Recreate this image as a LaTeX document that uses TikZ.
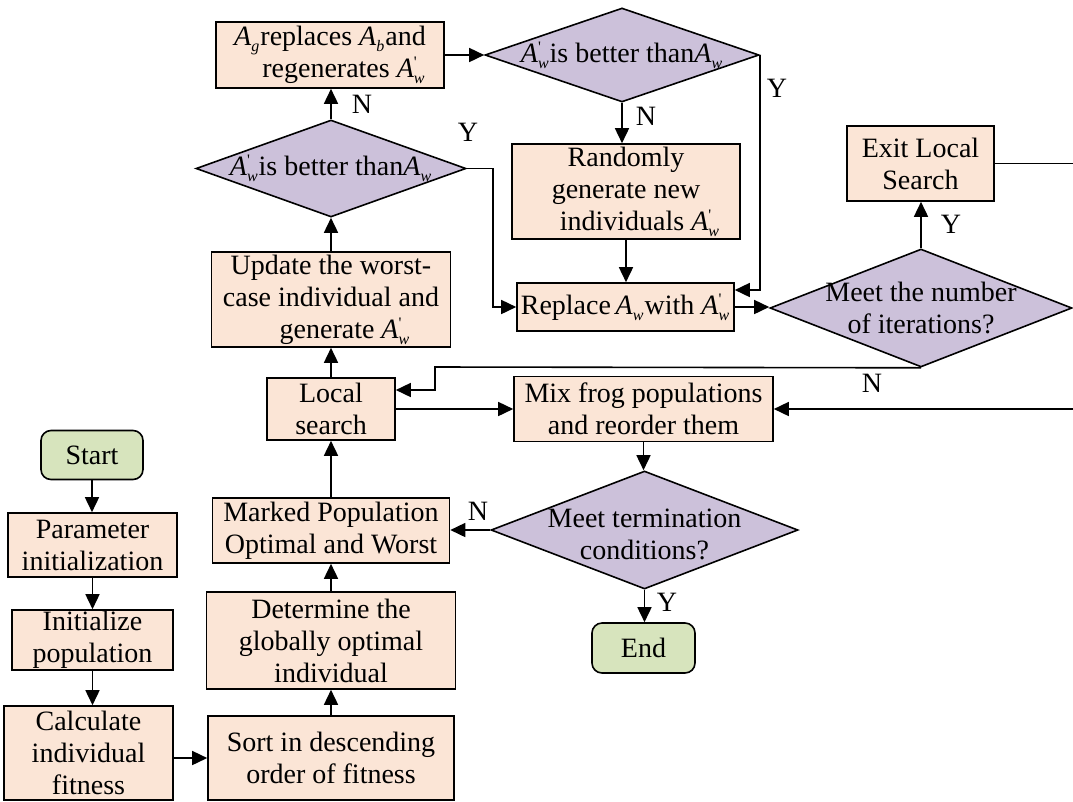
\documentclass[tikz,border=0pt]{standalone}
\usepackage{fontspec}
\setmainfont{Liberation Serif}
\usetikzlibrary{shapes.geometric,arrows.meta}
\definecolor{boxfill}{HTML}{FBE5D6}
\definecolor{decfill}{HTML}{CCC1DA}
\definecolor{termfill}{HTML}{D7E4BD}
\newcommand{\fs}{\fontsize{28}{32}\selectfont}
\newcommand{\subfs}{\fontsize{16}{16}\selectfont}
\newcommand{\Asub}[1]{\textit{A}\raisebox{-6pt}{\subfs\textit{#1}}\kern1pt}
\newcommand{\Aw}{\textit{A}\rlap{\raisebox{10pt}{\subfs\textquotesingle}}\raisebox{-6pt}{\subfs\textit{w}}\kern1pt}
\tikzset{
    procbox/.style = {draw, fill=boxfill, line width=1.6pt, rectangle, align=center, inner sep=1pt, font=\fs},
    termbox/.style = {procbox, fill=termfill, rounded corners=10pt},
    decision/.style = {draw, fill=decfill, line width=1.6pt, diamond, inner sep=0pt},
    dectext/.style = {font=\fs, align=center, inner sep=0pt},
    yn/.style = {font=\fs, inner sep=0pt},
    arr/.style = {line width=1.6pt, -{Triangle[length=15pt,width=14pt]}},
    wire/.style = {line width=1.6pt},
}

\begin{document}
\begin{tikzpicture}[x=1pt, y=-1pt]
\useasboundingbox (0,0) rectangle (1073,801);
% initialisation column
\node[termbox, minimum width=102pt, minimum height=49pt] (start) at (92,455) {Start};
\node[procbox, minimum width=169pt, minimum height=64pt] (param) at (92.5,545) {Parameter\\initialization};
\node[procbox, minimum width=161pt, minimum height=60pt] (initpop) at (92.5,640) {Initialize\\population};
\node[procbox, minimum width=169pt, minimum height=94pt] (calc) at (88.5,753) {Calculate\\individual\\fitness};
% centre column
\node[procbox, minimum width=246pt, minimum height=84pt] (sort) at (331,758) {Sort in descending\\order of fitness};
\node[procbox, minimum width=249pt, minimum height=97pt] (global) at (331,640.5) {Determine the\\globally optimal\\individual};
\node[procbox, minimum width=237pt, minimum height=65pt] (marked) at (331,530.5) {Marked Population\\Optimal and Worst};
\node[procbox, minimum width=128pt, minimum height=62pt] (local) at (331,409) {Local\\search};
\node[procbox, minimum width=239pt, minimum height=95pt] (update) at (331,299.5) {Update the worst-\\case individual and\\\quad generate \Aw};
\node[decision, minimum width=270pt, minimum height=97pt,
      label={[dectext]center:{\Aw is better than\Asub{w}}}] (better1) at (331,168.5) {};
\node[procbox, minimum width=228pt, minimum height=66pt] (regen) at (330,55) {\Asub{g}replaces \Asub{b}and\\\quad regenerates \Aw};
% local search loop
\node[decision, minimum width=274pt, minimum height=94pt,
      label={[dectext]center:{\Aw is better than\Asub{w}}}] (better2) at (622,55) {};
\node[procbox, minimum width=228pt, minimum height=95pt] (random) at (626,191.5) {Randomly\\generate new\\\quad individuals \Aw};
\node[procbox, minimum width=217pt, minimum height=48pt] (replace) at (625.5,307) {Replace\,\Asub{w}with \Aw};
\node[decision, minimum width=302pt, minimum height=118pt,
      label={[dectext]center:{Meet the number\\of iterations?}}] (iter) at (921,308) {};
\node[procbox, minimum width=147pt, minimum height=75pt] (exit) at (920.5,163.5) {Exit Local\\Search};
% mixing and termination
\node[procbox, minimum width=259pt, minimum height=65pt] (mix) at (643.5,409) {Mix frog populations\\and reorder them};
\node[decision, minimum width=307pt, minimum height=118pt,
      label={[dectext,yshift=-4pt]center:{Meet termination\\conditions?}}] (term) at (644.5,530) {};
\node[termbox, minimum width=103pt, minimum height=50pt] (stop) at (643.5,648) {End};
\coordinate (exitend) at (1073,163.5);
\coordinate (mixin) at (1073,409);
\coordinate (nturn) at (435,367);

% connectors
\draw[arr] (start) -- (start |- param.north);
\draw[arr] (param) -- (param |- initpop.north);
\draw[arr] (initpop.south) -- (initpop.south |- calc.north);
\draw[arr] (sort.west -| calc.east) -- (sort.west);
\draw[arr] (sort) -- (global);
\draw[arr] (global) -- (marked);
\draw[arr] (marked) -- (local);
\draw[arr] (local) -- (update);
\draw[arr] (update) -- (better1);
\draw[arr] (better1) -- (better1 |- regen.south);
\draw[arr] (better1.east) -- ++(26,0) |- (replace.west);
\draw[arr] (regen) -- (better2);
\draw[arr] (better2.south) -- (better2.south |- random.north);
\draw[arr] (better2.east) |- ([yshift=17pt]replace.east);
\draw[arr] (random) -- (random |- replace.north);
\draw[arr] (replace.east) -- (replace.east -| iter.west);
\draw[arr] (iter) -- (iter |- exit.south);
\draw[wire] (exit.east) -- (exitend);
\draw[arr] (iter.south) -- (nturn) |- ([yshift=19pt]local.east);
\draw[arr] (local.east) -- (local.east -| mix.west);
\draw[arr] (mixin) -- (mix.east);
\draw[arr] (mix) -- (mix |- term.north);
\draw[arr] (term.west) -- (term.west -| marked.east);
\draw[arr] (term) -- (term |- stop.north);

% branch labels
\node[yn] (nregen) at (362,104) {N};
\node[yn] (yreplace) at (468,132) {Y};
\node[yn] (nrandom) at (646,116) {N};
\node[yn] (yright) at (777,88) {Y};
\node[yn] (yexit) at (951,224) {Y};
\node[yn] (niter) at (872,383) {N};
\node[yn] (nterm) at (478,511) {N};
\node[yn] (yterm) at (667,602) {Y};
\end{tikzpicture}
\end{document}
